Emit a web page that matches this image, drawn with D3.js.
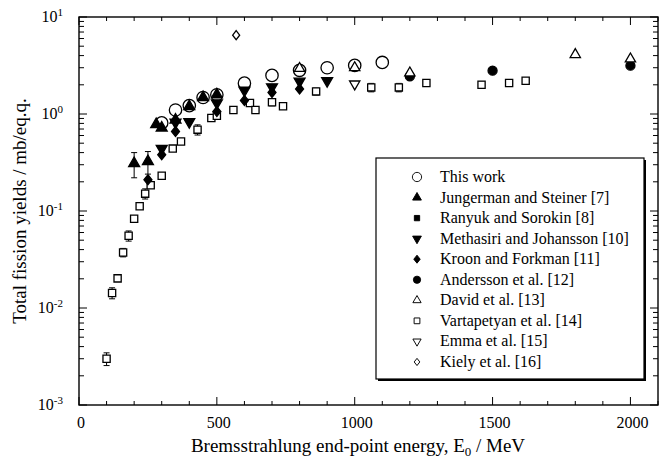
<!DOCTYPE html>
<html>
<head>
<meta charset="utf-8">
<script src="https://cdn.jsdelivr.net/npm/d3@7"></script>
<style>
  body { margin: 0; background: #fff; }
  svg text { font-family: "Liberation Serif", "DejaVu Serif", serif; }
</style>
</head>
<body>
<div id="chart"></div>
<script>
// energies in MeV, yields in mb/eq.q.
const thisWorkE = [300, 350, 400, 450, 500, 600, 700, 800, 900, 1000, 1100];
const thisWorkY = [0.81, 1.1, 1.22, 1.48, 1.58, 2.08, 2.5, 2.82, 3.0, 3.17, 3.4];

const jungermanE = [200, 250, 280, 300, 350, 400, 450, 500];
const jungermanY = [0.31, 0.325, 0.78, 0.72, 0.87, 1.2, 1.48, 1.58];
const jungermanLo = [0.22, 0.24, null, null, null, null, null, null];
const jungermanHi = [0.40, 0.41, null, null, null, null, null, null];

const ranyukE = [];
const ranyukY = [];

const methasiriE = [300, 350, 400, 500, 600, 700, 800, 900];
const methasiriY = [0.44, 0.82, 0.83, 1.3, 1.75, 1.9, 2.17, 2.2];

const kroonE = [250, 300, 350, 500, 600, 700, 800];
const kroonY = [0.21, 0.38, 0.66, 1.06, 1.38, 1.67, 1.81];

const anderssonE = [1200, 1500, 2000];
const anderssonY = [2.44, 2.8, 3.15];

const davidE = [800, 1000, 1200, 1800, 2000];
const davidY = [2.95, 3.0, 2.65, 4.1, 3.69];

const vartapetyanE = [100, 120, 140, 160, 180, 200, 220, 240, 260, 300, 340, 370, 430, 480, 500, 560, 620, 640, 700, 740, 860, 1060, 1160, 1260, 1460, 1560, 1620];
const vartapetyanY = [0.0030, 0.0143, 0.0202, 0.0374, 0.0556, 0.0833, 0.112, 0.151, 0.184, 0.231, 0.44, 0.52, 0.69, 0.91, 0.96, 1.1, 1.3, 1.1, 1.32, 1.2, 1.71, 1.88, 1.88, 2.09, 2.0, 2.09, 2.2];
const vartapetyanErr = [0.15, 0.13, 0.06, 0.1, 0.12, 0.05, 0.05, 0.12, 0.06, 0.05, 0.05, 0.05, 0.12, 0.06, 0.08, 0.05, 0.05, 0.05, 0.08, 0.05, 0.08, 0.1, 0.1, 0.05, 0.08, 0.08, 0.05];

const emmaE = [1000];
const emmaY = [2.04];

const kielyE = [570];
const kielyY = [6.5];

const xTickValues = [0, 500, 1000, 1500, 2000];
const yDecades = [-3, -2, -1, 0, 1];

const W = 671, H = 458;
const x = d3.scaleLinear().domain([0, 2100]).range([79, 658]);
const y = d3.scaleLog().domain([1e-3, 1e1]).range([405, 17]);

const svg = d3.select("#chart").append("svg")
  .attr("width", W).attr("height", H)
  .attr("font-family", "'Liberation Serif', 'DejaVu Serif', serif");

// frame
svg.append("rect")
  .attr("x", x(0)).attr("y", y(1e1))
  .attr("width", x(2100) - x(0)).attr("height", y(1e-3) - y(1e1))
  .attr("fill", "none").attr("stroke", "#000").attr("stroke-width", 1.4);

const ticks = svg.append("g").attr("stroke", "#000").attr("stroke-width", 1);

// x ticks, every 100 MeV, on top and bottom
d3.range(0, 2101, 100).forEach(v => {
  const len = v % 500 === 0 ? 8 : 4;
  ticks.append("line").attr("x1", x(v)).attr("x2", x(v))
    .attr("y1", y(1e-3)).attr("y2", y(1e-3) - len);
  ticks.append("line").attr("x1", x(v)).attr("x2", x(v))
    .attr("y1", y(1e1)).attr("y2", y(1e1) + len);
});

// y ticks, decades plus minor, on left and right
yDecades.forEach(p => {
  const mults = p < 1 ? d3.range(1, 10) : [1];
  mults.forEach(m => {
    const v = m * Math.pow(10, p);
    const len = m === 1 ? 8 : 5;
    ticks.append("line").attr("x1", x(0)).attr("x2", x(0) + len)
      .attr("y1", y(v)).attr("y2", y(v));
    ticks.append("line").attr("x1", x(2100)).attr("x2", x(2100) - len)
      .attr("y1", y(v)).attr("y2", y(v));
  });
});

// x tick labels
svg.append("g").selectAll("text").data(xTickValues).join("text")
  .attr("x", d => x(d) + 2).attr("y", 428)
  .attr("text-anchor", "middle").attr("font-size", 16)
  .text(d => d);

// y tick labels 10^n
const yl = svg.append("g").selectAll("text").data(yDecades).join("text")
  .attr("x", 63).attr("y", d => y(Math.pow(10, d)) + 5)
  .attr("text-anchor", "end").attr("font-size", 16);
yl.append("tspan").text("10");
yl.append("tspan").attr("font-size", 11).attr("dy", -6).text(d => d);

// axis titles
const xt = svg.append("text").attr("x", 358).attr("y", 452)
  .attr("text-anchor", "middle").attr("font-size", 19);
xt.append("tspan").text("Bremsstrahlung end-point energy, E");
xt.append("tspan").attr("font-size", 13).attr("dy", 4).text("0");
xt.append("tspan").attr("dy", -4).text(" / MeV");

svg.append("text")
  .attr("transform", `translate(26,${(y(1e1) + y(1e-3)) / 2}) rotate(-90)`)
  .attr("text-anchor", "middle").attr("font-size", 19)
  .text("Total fission yields / mb/eq.q.");

// marker shapes
const sym = (type, size) => d3.symbol().type(type).size(size)();
const shapes = {
  openCircle: {d: sym(d3.symbolCircle, 120), fill: "none", rot: 0},
  upTri: {d: sym(d3.symbolTriangle, 52), fill: "#000", rot: 0},
  fSquare: {d: sym(d3.symbolSquare, 44), fill: "#000", rot: 0},
  downTri: {d: sym(d3.symbolTriangle, 52), fill: "#000", rot: 180},
  diamond: {d: "M0,-5L4,0L0,5L-4,0Z", fill: "#000", rot: 0},
  fCircle: {d: sym(d3.symbolCircle, 64), fill: "#000", rot: 0},
  openUpTri: {d: sym(d3.symbolTriangle, 46), fill: "#fff", rot: 0},
  openSquare: {d: sym(d3.symbolSquare, 52), fill: "#fff", rot: 0},
  openDownTri: {d: sym(d3.symbolTriangle, 46), fill: "#fff", rot: 180},
  openDiamond: {d: "M0,-4.5L3.5,0L0,4.5L-3.5,0Z", fill: "#fff", rot: 0}
};

const series = [
  {name: "Vartapetyan et al. [14]", shape: "openSquare", E: vartapetyanE, Y: vartapetyanY},
  {name: "This work", shape: "openCircle", E: thisWorkE, Y: thisWorkY},
  {name: "Jungerman and Steiner [7]", shape: "upTri", E: jungermanE, Y: jungermanY},
  {name: "Ranyuk and Sorokin [8]", shape: "fSquare", E: ranyukE, Y: ranyukY},
  {name: "Methasiri and Johansson [10]", shape: "downTri", E: methasiriE, Y: methasiriY},
  {name: "Kroon and Forkman [11]", shape: "diamond", E: kroonE, Y: kroonY},
  {name: "Andersson et al. [12]", shape: "fCircle", E: anderssonE, Y: anderssonY},
  {name: "David et al. [13]", shape: "openUpTri", E: davidE, Y: davidY},
  {name: "Emma et al. [15]", shape: "openDownTri", E: emmaE, Y: emmaY},
  {name: "Kiely et al. [16]", shape: "openDiamond", E: kielyE, Y: kielyY}
];
const legendOrder = ["This work", "Jungerman and Steiner [7]", "Ranyuk and Sorokin [8]",
  "Methasiri and Johansson [10]", "Kroon and Forkman [11]", "Andersson et al. [12]",
  "David et al. [13]", "Vartapetyan et al. [14]", "Emma et al. [15]", "Kiely et al. [16]"];

// error bars
const eb = svg.append("g").attr("stroke", "#000").attr("stroke-width", 1);
const bar = (e, lo, hi) => {
  eb.append("line").attr("x1", x(e)).attr("x2", x(e)).attr("y1", y(lo)).attr("y2", y(hi));
  [lo, hi].forEach(v => eb.append("line").attr("x1", x(e) - 3).attr("x2", x(e) + 3)
    .attr("y1", y(v)).attr("y2", y(v)));
};
vartapetyanE.forEach((e, i) => {
  const v = vartapetyanY[i], r = vartapetyanErr[i];
  bar(e, v * (1 - r), v * (1 + r));
});
jungermanE.forEach((e, i) => {
  if (jungermanLo[i] != null) bar(e, jungermanLo[i], jungermanHi[i]);
});

// markers
series.forEach(s => {
  const sh = shapes[s.shape];
  svg.append("g").selectAll("path").data(s.E.map((e, i) => [e, s.Y[i]])).join("path")
    .attr("d", sh.d)
    .attr("transform", d => `translate(${x(d[0])},${y(d[1])}) rotate(${sh.rot})`)
    .attr("fill", sh.fill).attr("stroke", "#000").attr("stroke-width", 1.3);
});

// legend
const lg = svg.append("g");
lg.append("rect").attr("x", 378).attr("y", 160).attr("width", 268).attr("height", 221)
  .attr("fill", "#000");
lg.append("rect").attr("x", 376).attr("y", 158).attr("width", 268).attr("height", 221)
  .attr("fill", "#fff").attr("stroke", "#000").attr("stroke-width", 1.2);
legendOrder.forEach((name, i) => {
  const s = series.find(d => d.name === name);
  const sh = shapes[s.shape];
  const ly = 177 + i * 20.55;
  const small = s.shape === "openCircle" ? 0.75 : 0.8;
  lg.append("path").attr("d", sh.d)
    .attr("transform", `translate(417,${ly}) scale(${small}) rotate(${sh.rot})`)
    .attr("fill", sh.fill).attr("stroke", "#000").attr("stroke-width", 1.2);
  lg.append("text").attr("x", 440).attr("y", ly + 5).attr("font-size", 16).text(name);
});
</script>
</body>
</html>
